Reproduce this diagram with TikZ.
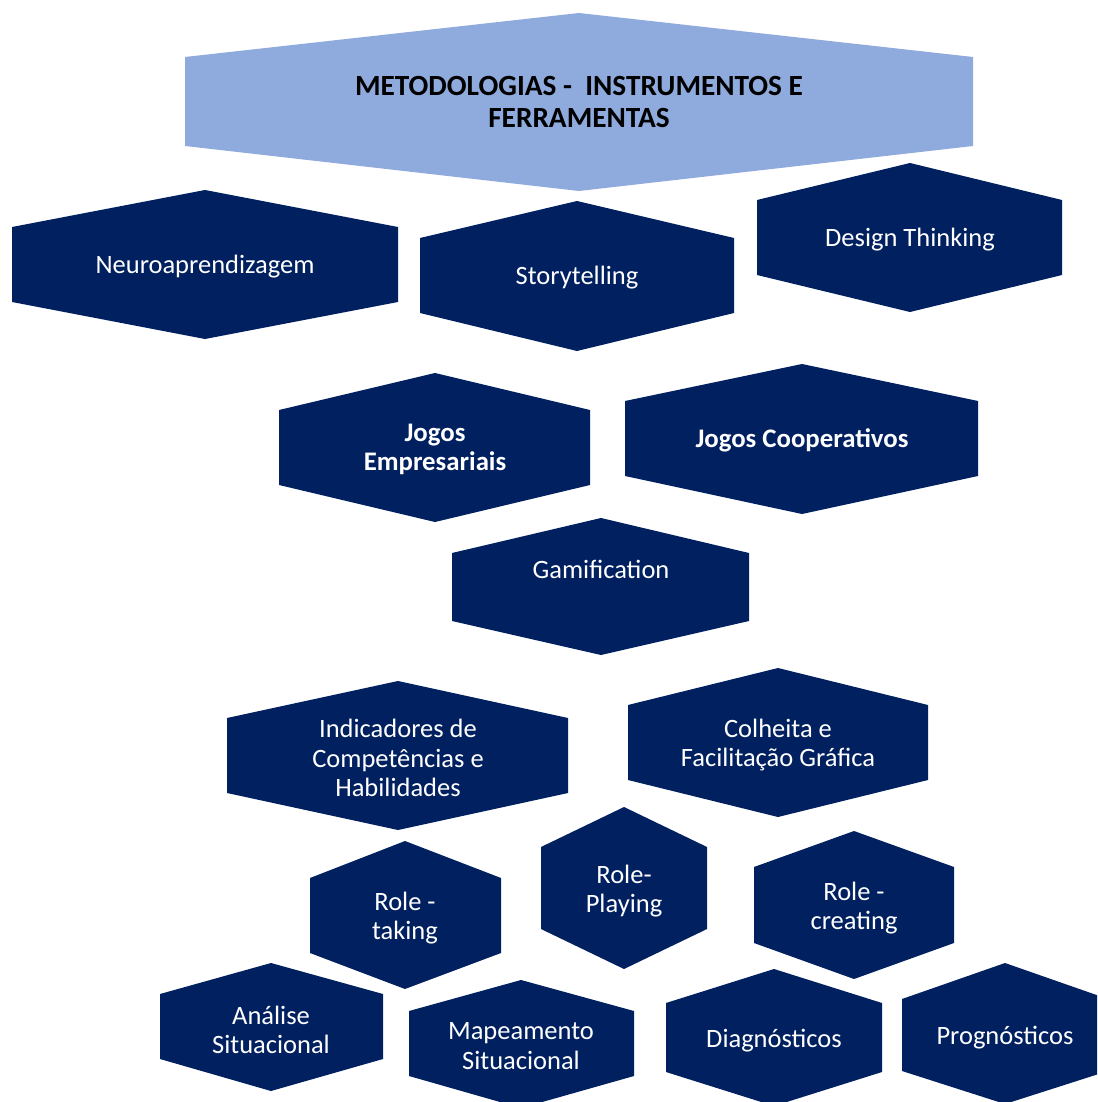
\documentclass[tikz,border=0pt]{standalone}
\usepackage{fontspec}
\setmainfont{Carlito}
\definecolor{navy}{HTML}{002060}
\definecolor{lightblue}{HTML}{8FAADC}
% #1 style, #2 cx, #3 top, #4 bottom, #5 left, #6 right, #7 side top, #8 side bottom
\newcommand\hexa[8]{\fill[#1] (#2,#3) -- (#6,#7) -- (#6,#8) -- (#2,#4) -- (#5,#8) -- (#5,#7) -- cycle;}
\begin{document}
\begin{tikzpicture}[x=1pt,y=-1pt,
  hexfill/.style={fill=navy},
  titlefill/.style={fill=lightblue},
  hexlabel/.style={text=white, align=center, inner sep=0pt, font=\fontsize{26.5}{29.5}\selectfont},
  boldlabel/.style={hexlabel, font=\fontsize{26.8}{29.5}\selectfont\bfseries},
  titlelabel/.style={text=black, align=center, inner sep=0pt, font=\fontsize{29.3}{32}\selectfont\bfseries}]
\useasboundingbox (0,0) rectangle (1097,1102);
\clip (0,0) rectangle (1097,1102);
\hexa{titlefill}{579}{13}{191}{185}{973}{57}{146}
\hexa{hexfill}{205}{190}{339}{12}{398}{227}{302}
\hexa{hexfill}{577}{201}{351}{420}{734}{238}{313}
\hexa{hexfill}{910}{163}{312}{757}{1062}{200}{275}
\hexa{hexfill}{435}{373}{522}{279}{590}{410}{485}
\hexa{hexfill}{802}{364}{514}{625}{978}{401}{476}
\hexa{hexfill}{601}{518}{655}{452}{749}{553}{621}
\hexa{hexfill}{398}{681}{830}{227}{568}{718}{793}
\hexa{hexfill}{778}{668}{817}{628}{928}{705}{780}
\hexa{hexfill}{405}{841}{989}{310}{501}{878}{953}
\hexa{hexfill}{624}{807}{969}{541}{707}{847}{929}
\hexa{hexfill}{854}{831}{979}{754}{954}{867}{943}
\hexa{hexfill}{271}{963}{1091}{160}{383}{994}{1059}
\hexa{hexfill}{521}{980}{1108}{409}{634}{1011}{1076}
\hexa{hexfill}{774}{969}{1106}{666}{882}{1003}{1072}
\hexa{hexfill}{1005}{963}{1104}{902}{1108}{999}{1071}
\node[titlelabel] (title) at (579,102) {METODOLOGIAS -\ \ INSTRUMENTOS E\\FERRAMENTAS};
\node[hexlabel] (neuro) at (205,267) {Neuroaprendizagem};
\node[hexlabel] (story) at (577,278) {Storytelling};
\node[hexlabel] (design) at (910,240) {Design Thinking};
\node[boldlabel] (jogosE) at (435,449.5) {Jogos\\Empresariais};
\node[boldlabel] (jogosC) at (802,440) {Jogos Cooperativos};
\node[hexlabel] (gamif) at (601,569) {Gamification};
\node[hexlabel] (indic) at (398,758) {Indicadores de\\Competências e\\Habilidades};
\node[hexlabel] (colh) at (778,745) {Colheita e\\Facilitação Gráfica};
\node[hexlabel] (roleT) at (405,918) {Role -\\taking};
\node[hexlabel] (roleP) at (624,891) {Role-\\Playing};
\node[hexlabel] (roleC) at (854,908) {Role -\\creating};
\node[hexlabel] (anal) at (271,1030) {Análise\\Situacional};
\node[hexlabel] (mapa) at (521,1046) {Mapeamento\\Situacional};
\node[hexlabel] (diag) at (774,1041) {Diagnósticos};
\node[hexlabel] (prog) at (1005,1038) {Prognósticos};
\end{tikzpicture}
\end{document}
